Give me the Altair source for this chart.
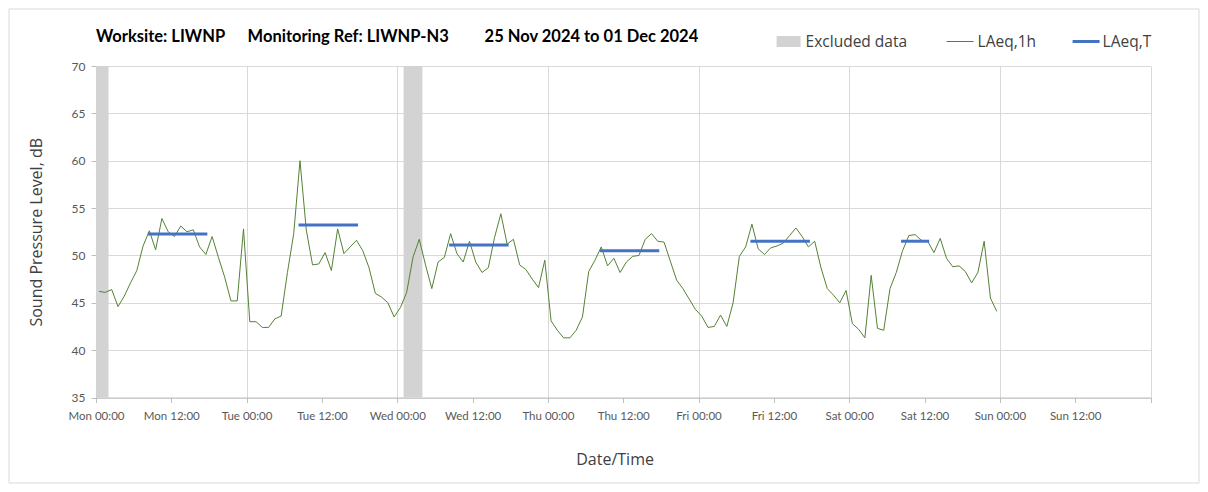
import altair as alt
import pandas as pd

# ---------------- data ----------------
# hourly LAeq,1h values, Mon 25 Nov 2024 00:00 .. Sat 30 Nov 2024 23:00 (plotted at mid-hour)
laeq_1h = [
    46.2, 46.1, 46.4, 44.6, 45.7, 47.1, 48.4, 51.0, 52.6, 50.6,
    53.9, 52.5, 52.0, 53.1, 52.5, 52.7, 50.9, 50.1, 52.0, 49.8,
    47.7, 45.2, 45.2, 52.8, 43.0, 43.0, 42.4, 42.4, 43.3, 43.6,
    48.2, 52.3, 60.0, 52.7, 49.0, 49.1, 50.3, 48.4, 52.8, 50.2,
    50.9, 51.6, 50.5, 48.7, 46.0, 45.6, 45.0, 43.5, 44.5,
    46.1, 49.8, 51.7, 49.0, 46.5, 49.3, 49.8, 52.3, 50.2, 49.3,
    51.5, 49.3, 48.2, 48.7, 51.9, 54.4, 51.2, 51.7, 49.0, 48.5,
    47.5, 46.6, 49.5, 43.1, 42.1, 41.3, 41.3, 42.1, 43.5, 48.3,
    49.5, 50.9, 48.9, 49.7, 48.2, 49.3, 49.9, 50.0, 51.7, 52.3,
    51.5, 51.4, 49.4, 47.4, 46.5,
    45.4, 44.3, 43.6, 42.4, 42.5, 43.7, 42.5, 45.0, 49.9, 50.9,
    53.3, 50.7, 50.1, 50.8, 51.0, 51.3, 52.1, 52.9, 52.0, 50.9,
    51.5, 48.7, 46.5, 45.8, 45.0, 46.3, 42.8, 42.2, 41.3, 47.9,
    42.3, 42.1, 46.5, 48.2, 50.5, 52.1, 52.2, 51.6, 51.5, 50.3,
    51.8, 49.7, 48.8, 48.9, 48.3, 47.1, 48.2, 51.5, 45.5, 44.1,
]

# excluded periods (hours from Mon 00:00)
excluded_start_h = [0, 49]
excluded_end_h = [2, 52]

# LAeq,T daytime periods (hours from Mon 00:00) and levels
period_start_h = [8, 32, 56, 80, 104, 128]
period_end_h = [18, 42, 66, 90, 114, 133]
laeq_T = [52.25, 53.2, 51.1, 50.5, 51.5, 51.5]

y_ticks = [35, 40, 45, 50, 55, 60, 65, 70]

# ---------------- helpers ----------------
t0 = pd.Timestamp("2024-11-25T00:00:00", tz="UTC")


def iso(h):
    return (t0 + pd.Timedelta(hours=h)).strftime("%Y-%m-%dT%H:%M:%SZ")


def ms(h):
    return int((t0 + pd.Timedelta(hours=h)).timestamp() * 1000)


line_df = pd.DataFrame({"t": [iso(i + 0.5) for i in range(len(laeq_1h))], "v": laeq_1h})
band_df = pd.DataFrame({"t": [iso(h) for h in excluded_start_h],
                        "t2": [iso(h) for h in excluded_end_h]})
per_df = pd.DataFrame({"t": [iso(h + 0.5) for h in period_start_h],
                       "t2": [iso(h - 0.5) for h in period_end_h],
                       "v": laeq_T})
one = pd.DataFrame({"a": [0]})

W, H = 1054.5, 331.5
GRID = "#d9d9d9"
AXC = "#bfbfbf"
LBL = "#595959"
TXT = "#404040"

x_axis = alt.Axis(
    values=[ms(12 * k) for k in range(15)],
    labelExpr="datum.value >= utc(2024, 11, 2) ? '' : utcFormat(datum.value, '%a %H:%M')",
    title="Date/Time",
    grid=True,
    gridColor=GRID,
    gridOpacity={"condition": {"test": "utchours(datum.value) == 0", "value": 1}, "value": 0},
    domainColor=AXC,
    tickColor=AXC,
    tickSize=5,
    labelFont="Lato",
    labelFontSize=11.5,
    labelColor=LBL,
    labelPadding=8,
    labelFlush=False,
    labelOverlap=False,
    titleFont="Open Sans",
    titleFontSize=16,
    titleFontWeight="normal",
    titleColor=TXT,
    titleX=518.6,
    titleY=67,
    titleAlign="center",
    titleBaseline="alphabetic",
)
x_scale = alt.Scale(type="utc",
                    domain=[alt.DateTime(year=2024, month=11, date=25, utc=True),
                            alt.DateTime(year=2024, month=12, date=2, utc=True)])

y_axis = alt.Axis(
    values=y_ticks,
    title="Sound Pressure Level, dB",
    grid=True,
    gridColor=GRID,
    domainColor=AXC,
    tickColor=AXC,
    tickSize=5,
    labelFont="Lato",
    labelFontSize=12,
    labelColor=LBL,
    labelPadding=6,
    titleFont="Open Sans",
    titleFontSize=16,
    titleFontWeight="normal",
    titleColor=TXT,
    titleX=-60,
    titleY=H / 2,
    titleAlign="center",
    titleBaseline="middle",
    titleAngle=270,
)
y_scale = alt.Scale(domain=[35, 70], nice=False, zero=False)

X = alt.X("t:T", scale=x_scale, axis=x_axis)

bands = alt.Chart(band_df).mark_rect(color="#d3d3d3").encode(
    x=X, x2="t2:T", y=alt.value(0), y2=alt.value(H)
)

line = alt.Chart(line_df).mark_line(color="#548235", strokeWidth=1).encode(
    x=X, y=alt.Y("v:Q", scale=y_scale, axis=y_axis)
)

periods = alt.Chart(per_df).mark_rule(color="#4472C4", strokeWidth=3, strokeCap="square").encode(
    x=X, x2="t2:T", y=alt.Y("v:Q", scale=y_scale, axis=y_axis)
)

# chart border
border = alt.Chart(one).mark_rect(fillOpacity=0, stroke="#d9d9d9", strokeWidth=1).encode(
    x=alt.value(-87), x2=alt.value(1103), y=alt.value(-57), y2=alt.value(417)
)

# title pieces
title_font = dict(font="Lato", fontSize=16.5, fontWeight="bold", color="#000000",
                  align="left", baseline="alphabetic")
t1 = alt.Chart(one).mark_text(**title_font).encode(
    x=alt.value(0), y=alt.value(-24), text=alt.value("Worksite: LIWNP"))
t2 = alt.Chart(one).mark_text(**title_font).encode(
    x=alt.value(151.6), y=alt.value(-24), text=alt.value("Monitoring Ref: LIWNP-N3"))
t3 = alt.Chart(one).mark_text(**title_font).encode(
    x=alt.value(388.6), y=alt.value(-24), text=alt.value("25 Nov 2024 to 01 Dec 2024"))

# legend
leg_font = dict(font="Open Sans", fontSize=15.5, color=TXT, align="left", baseline="middle")
leg_y = -24.5
sw_band = alt.Chart(one).mark_rect(color="#d3d3d3").encode(
    x=alt.value(680.6), x2=alt.value(704.6), y=alt.value(-30), y2=alt.value(-19))
lt_band = alt.Chart(one).mark_text(**leg_font).encode(
    x=alt.value(709.6), y=alt.value(leg_y), text=alt.value("Excluded data"))
sw_line = alt.Chart(one).mark_rule(color="#548235", strokeWidth=1).encode(
    x=alt.value(850.6), x2=alt.value(877.6), y=alt.value(leg_y))
lt_line = alt.Chart(one).mark_text(**leg_font).encode(
    x=alt.value(881.6), y=alt.value(leg_y), text=alt.value("LAeq,1h"))
sw_T = alt.Chart(one).mark_rule(color="#4472C4", strokeWidth=3).encode(
    x=alt.value(976.6), x2=alt.value(1003.6), y=alt.value(leg_y))
lt_T = alt.Chart(one).mark_text(**leg_font).encode(
    x=alt.value(1006.6), y=alt.value(leg_y), text=alt.value("LAeq,T"))

chart = alt.layer(
    bands, line, periods, border, t1, t2, t3,
    sw_band, lt_band, sw_line, lt_line, sw_T, lt_T
).properties(
    width=W, height=H, padding=0, background="white"
).configure_view(stroke=None)

chart.save("out.html", embed_options={"renderer": "svg", "actions": False})
